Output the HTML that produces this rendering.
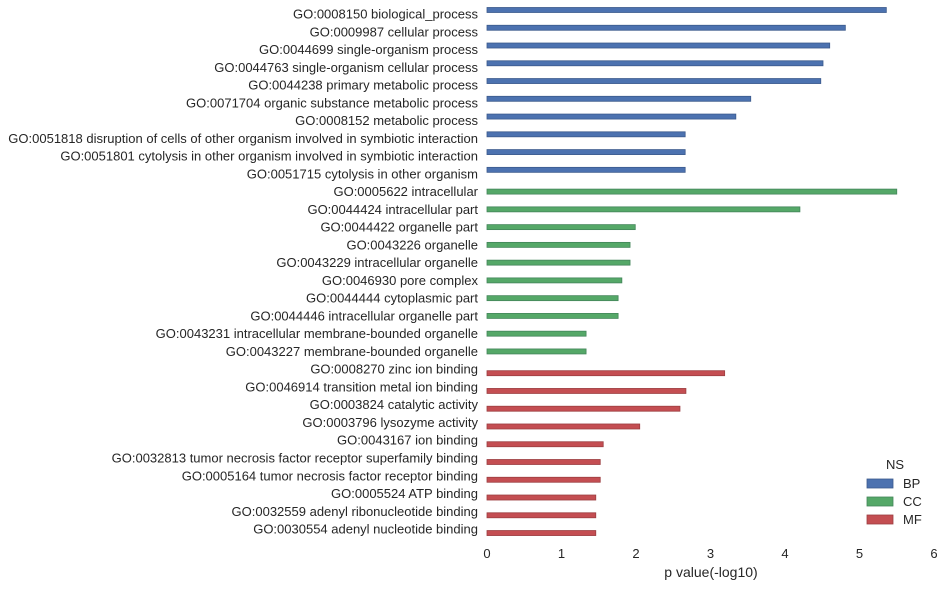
<!DOCTYPE html>
<html><head><meta charset="utf-8"><style>
body{margin:0;background:#fff;}
text{font-family:"Liberation Sans",Arial,sans-serif;fill:#262626;}
</style></head><body>
<svg id="chart" width="944" height="587" xmlns="http://www.w3.org/2000/svg"></svg>
<script>
const categories=["GO:0008150 biological_process","GO:0009987 cellular process","GO:0044699 single-organism process","GO:0044763 single-organism cellular process","GO:0044238 primary metabolic process","GO:0071704 organic substance metabolic process","GO:0008152 metabolic process","GO:0051818 disruption of cells of other organism involved in symbiotic interaction","GO:0051801 cytolysis in other organism involved in symbiotic interaction","GO:0051715 cytolysis in other organism","GO:0005622 intracellular","GO:0044424 intracellular part","GO:0044422 organelle part","GO:0043226 organelle","GO:0043229 intracellular organelle","GO:0046930 pore complex","GO:0044444 cytoplasmic part","GO:0044446 intracellular organelle part","GO:0043231 intracellular membrane-bounded organelle","GO:0043227 membrane-bounded organelle","GO:0008270 zinc ion binding","GO:0046914 transition metal ion binding","GO:0003824 catalytic activity","GO:0003796 lysozyme activity","GO:0043167 ion binding","GO:0032813 tumor necrosis factor receptor superfamily binding","GO:0005164 tumor necrosis factor receptor binding","GO:0005524 ATP binding","GO:0032559 adenyl ribonucleotide binding","GO:0030554 adenyl nucleotide binding"];
const namespaces=["BP","BP","BP","BP","BP","BP","BP","BP","BP","BP","CC","CC","CC","CC","CC","CC","CC","CC","CC","CC","MF","MF","MF","MF","MF","MF","MF","MF","MF","MF"];
const values=[5.36,4.81,4.60,4.51,4.48,3.54,3.34,2.66,2.66,2.66,5.50,4.20,1.99,1.92,1.92,1.81,1.76,1.76,1.33,1.33,3.19,2.67,2.59,2.05,1.56,1.52,1.52,1.46,1.46,1.46];
const xTicks=[0,1,2,3,4,5,6];
const legendLabels=["BP","CC","MF"];
const colors={BP:["#4c72b0","#3b5a8c"],CC:["#55a868","#43855a"],MF:["#c44e52","#9c3e41"]};
const offsets={BP:-4,CC:0,MF:4};
const svg=document.getElementById('chart');
const NS='http://www.w3.org/2000/svg';
const x=v=>487+v*74.5;
const yRow=i=>14+i*17.76;
function mk(t,a,txt){const e=document.createElementNS(NS,t);for(const k in a)e.setAttribute(k,a[k]);if(txt!==undefined)e.textContent=txt;svg.appendChild(e);return e;}
categories.forEach((c,i)=>{
  const t=mk('text',{x:478,y:yRow(i)+4.5,'text-anchor':'end','font-size':13},c);
  
  
  const ns=namespaces[i];
  const r=mk('rect',{x:x(0),y:yRow(i)+offsets[ns]-2.5,width:x(values[i])-x(0),height:5,fill:colors[ns][0],stroke:colors[ns][1],'stroke-width':0.8});
  
  
});
xTicks.forEach(v=>{
  const t=mk('text',{x:x(v),y:558,'text-anchor':'middle','font-size':13},String(v));
  
  
});
const xt=mk('text',{x:711,y:577,'text-anchor':'middle','font-size':14},'p value(-log10)');


const lt=mk('text',{x:895,y:469,'text-anchor':'middle','font-size':13},'NS');


legendLabels.forEach((l,j)=>{
  const r=mk('rect',{x:867,y:479+j*18,width:26,height:9,fill:colors[l][0],stroke:colors[l][1],'stroke-width':0.8});
  
  
  const t=mk('text',{x:903,y:488+j*18,'font-size':13},l);
  
  
});
</script>
</body></html>
